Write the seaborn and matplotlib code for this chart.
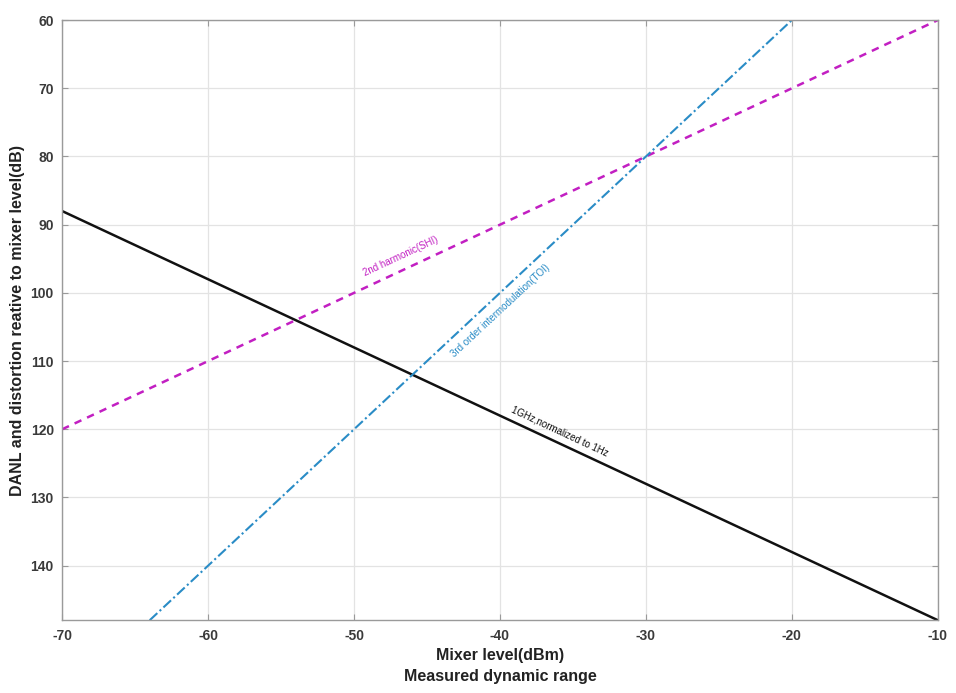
import matplotlib
matplotlib.use("Agg")
import matplotlib.pyplot as plt
import pandas as pd
import seaborn as sns

# end points of each curve
danl_x = [-70, -10]
danl_y = [88, 148]
shi_x = [-70, -10]
shi_y = [120, 60]
toi_x = [-64, -20]
toi_y = [148, 60]

x_ticks = [-70, -60, -50, -40, -30, -20, -10]
y_ticks = [60, 70, 80, 90, 100, 110, 120, 130, 140]

sns.set_theme(style="whitegrid")
plt.rcParams["font.family"] = ["Liberation Sans", "DejaVu Sans"]
plt.rcParams["font.weight"] = "bold"
plt.rcParams["axes.unicode_minus"] = False

fig, ax = plt.subplots(figsize=(9.56, 6.93), dpi=100)
fig.subplots_adjust(left=0.065, right=0.981, top=0.971, bottom=0.105)

black = "#111111"
magenta = "#c21fc2"
blue = "#2a8cc6"

sns.lineplot(x=danl_x, y=danl_y, color=black, linewidth=1.8, ax=ax)
sns.lineplot(x=shi_x, y=shi_y, color=magenta, linewidth=1.8, linestyle=(0, (3, 2.5)), ax=ax)
sns.lineplot(x=toi_x, y=toi_y, color=blue, linewidth=1.5, linestyle=(0, (5, 1.5, 1, 1.5)), ax=ax)

ax.set_xlim(-70, -10)
ax.set_ylim(148, 60)
ax.set_xticks(x_ticks)
ax.set_yticks(y_ticks)
ax.tick_params(axis="both", labelsize=10, labelcolor="#3a3a3a", color="#9a9a9a",
               direction="in", length=4, width=0.8, pad=6)
ax.tick_params(top=True, right=True, bottom=True, left=True)
for lab in ax.get_xticklabels() + ax.get_yticklabels():
    lab.set_fontweight("bold")
ax.grid(True, color="#e3e3e3", linewidth=0.9)
for sp in ax.spines.values():
    sp.set_visible(True)
    sp.set_color("#9a9a9a")
    sp.set_linewidth(1.0)

ax.set_xlabel("Mixer level(dBm)\nMeasured dynamic range", fontsize=11.5,
              fontweight="bold", color="#222222", linespacing=1.5, labelpad=4)
ax.set_ylabel("DANL and distortion reative to mixer level(dB)", fontsize=11.5,
              fontweight="bold", color="#222222", labelpad=4)

ax.text(-46.8, 94.6, "2nd harmonic(SHI)", color=magenta, fontsize=7,
        rotation=25, ha="center", va="center", fontweight="normal")
ax.text(-40.0, 102.6, "3rd order intermodulation(TOI)", color=blue, fontsize=7,
        rotation=43, ha="center", va="center", fontweight="normal")
ax.text(-35.9, 120.3, "1GHz,normalized to 1Hz", color=black, fontsize=7,
        rotation=-25, ha="center", va="center", fontweight="normal")

fig.savefig("out.png", dpi=100)
